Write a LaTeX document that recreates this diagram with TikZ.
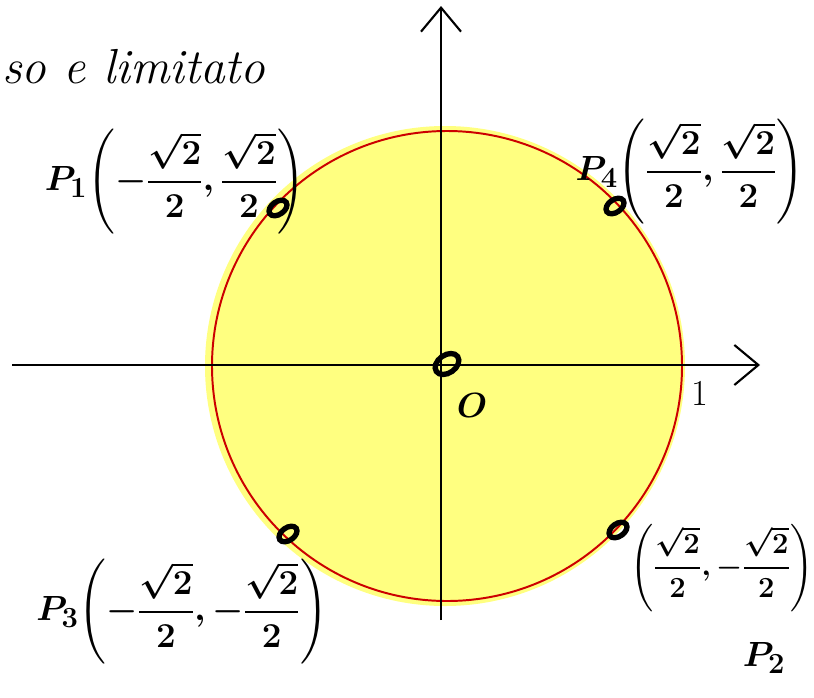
\documentclass[tikz,border=0pt]{standalone}
\usepackage{amsmath}
\usepackage{tikz}
\usetikzlibrary{positioning, arrows.meta, shapes.geometric}
\definecolor{giallo}{RGB}{255, 255, 128}
\definecolor{rosso}{RGB}{204, 0, 0}

\begin{document}
\begin{tikzpicture}[
    x=0.025cm, y=-0.025cm,
    asse/.style={
        line width=1.5pt,
        -{Straight Barb[length=6mm, width=10mm, line width=1.5pt]}
    },
    punto/.style={
        ellipse,
        draw,
        line width=3.8pt,
        minimum width=0.5cm,
        minimum height=0.32cm,
        inner sep=0pt,
        rotate=35
    },
    etichetta/.style={
        font=\fontsize{30}{36}\selectfont\boldmath,
        inner sep=0pt
    }
]
\useasboundingbox (0,0) rectangle (814,697);

% disco
\fill[giallo] (445,366) circle[radius=240];
\draw[rosso, line width=1.4pt] (447,366) circle[radius=235];

% assi
\coordinate (xa) at (12,365);
\coordinate (xb) at (760,365);
\coordinate (ya) at (441,620);
\coordinate (yb) at (441,6);
\draw[asse] (xa) -- (xb);
\draw[asse] (ya) -- (yb);

% punti
\node[punto] (p1) at (278,208) {};
\node[punto] (p4) at (615,206) {};
\node[punto] (p3) at (288,534) {};
\node[punto] (p2) at (618,530) {};
\node[punto, minimum width=0.65cm, minimum height=0.45cm, rotate=0] (orig) at (447,364) {};

% etichette
\node[etichetta] (l1) at (175,182) {$P_1\!\left(-\dfrac{\sqrt2}{2},\dfrac{\sqrt2}{2}\right)$};
\node[etichetta] (l4) at (690,172) {$P_4\!\left(\dfrac{\sqrt2}{2},\dfrac{\sqrt2}{2}\right)$};
\node[etichetta] (l3) at (182,612) {$P_3\!\left(-\dfrac{\sqrt2}{2},-\dfrac{\sqrt2}{2}\right)$};
\node[etichetta, font=\fontsize{20}{24}\selectfont\boldmath] (l2) at (722,568) {$\left(\dfrac{\sqrt2}{2},-\dfrac{\sqrt2}{2}\right)$};
\node[etichetta] (n2) at (764,658) {$P_2$};
\node[etichetta] (o) at (472,405) {$O$};
\node[etichetta, font=\fontsize{26}{30}\selectfont] (uno) at (700,393) {1};
\node[etichetta, anchor=south west, font=\fontsize{35}{40}\selectfont\itshape] (testo) at (2,84) {so e limitato};

\end{tikzpicture}
\end{document}
